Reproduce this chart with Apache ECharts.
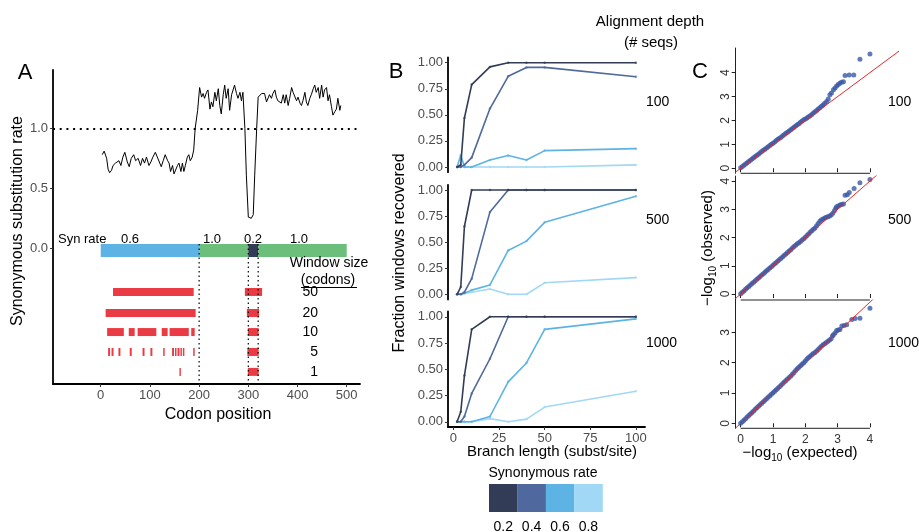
<!DOCTYPE html>
<html><head><meta charset="utf-8">
<script src="https://cdn.jsdelivr.net/npm/echarts@6/dist/echarts.min.js"></script>
<style>html,body{margin:0;padding:0;background:#fff}#c{width:919px;height:532px}</style>
</head><body><div id="c"></div>
<script>
// ================= Panel A data =================
const synPos = [3,7,12,15,18,22,25,30,33,37,41,45,49,54,58,62,67,71,76,81,85,89,93,98,102,106,111,115,120,123,127,131,136,139,142,146,149,152,156,159,163,166,169,172,176,179,182,186,189,192,197,201,205,208,211,215,218,222,225,228,232,235,239,242,245,249,252,255,259,262,266,269,272,276,279,283,286,289,293,296,300,303,306,310,313,317,320,323,327,330,333,337,340,343,347,350,354,357,360,364,367,371,374,377,381,384,388,391,394,398,401,405,408,411,415,418,421,425,428,432,435,438,442,445,449,452,455,459,462,465,469,472,476,479,482,486,488];
const synRate = [0.78,0.81,0.75,0.66,0.63,0.65,0.69,0.71,0.70,0.73,0.69,0.76,0.80,0.72,0.68,0.75,0.78,0.73,0.75,0.69,0.75,0.71,0.76,0.69,0.72,0.76,0.80,0.79,0.71,0.68,0.73,0.78,0.73,0.71,0.64,0.69,0.62,0.61,0.69,0.71,0.64,0.71,0.64,0.69,0.76,0.78,0.73,0.76,0.82,1.00,1.15,1.34,1.26,1.29,1.25,1.30,1.32,1.16,1.22,1.18,1.30,1.23,1.33,1.19,1.12,1.28,1.36,1.25,1.33,1.15,1.28,1.32,1.36,1.29,1.25,1.30,1.23,1.30,1.00,0.61,0.26,0.25,0.25,0.28,0.61,1.00,1.26,1.25,1.29,1.30,1.29,1.22,1.21,1.28,1.25,1.29,1.32,1.26,1.23,1.22,1.21,1.28,1.21,1.28,1.19,1.25,1.34,1.30,1.30,1.23,1.26,1.21,1.19,1.23,1.30,1.22,1.19,1.25,1.28,1.33,1.36,1.30,1.34,1.25,1.36,1.26,1.32,1.34,1.23,1.28,1.18,1.11,1.14,1.16,1.25,1.15,1.19];
const segStart = [0, 200, 300, 320];
const segEnd   = [200, 300, 320, 500];
const segRate  = [0.6, 1.0, 0.2, 1.0];
const windowSizes = [50, 20, 10, 5, 1];
const win50 = [[25,189],[293,328]];
const win20 = [[10,193],[297,322]];
const win10 = [[13,47],[57,69],[75,113],[124,136],[140,179],[184,191],[299,321]];
const win5  = [[15,19],[22,26],[36,40],[59,63],[85,89],[101,105],[127,130],[145,149],[151,154],[156,160],[162,165],[167,170],[188,191],[298,321]];
const win1  = [[160,161],[299,321]];
const xTicksA = [0,100,200,300,400,500];
const yTicksA = [0,0.5,1.0];

// ================= Panel B data =================
const branchLen = [2,4,6,10,20,30,40,50,100];
const rateLevels = [0.2, 0.4, 0.6, 0.8];
const depths = [100, 500, 1000];
const rec100_r02 = [0,0.02,0.47,0.79,0.96,1,1,1,1];
const rec100_r04 = [0,0,0.02,0.09,0.56,0.87,0.955,0.955,0.866];
const rec100_r06 = [0,0.115,0,0,0.067,0.11,0.067,0.157,0.176];
const rec100_r08 = [0,0,0,0,0,0,0,0,0.02];
const rec500_r02 = [0,0.07,0.65,1,1,1,1,1,1];
const rec500_r04 = [0,0,0.02,0.15,0.79,1,1,1,1];
const rec500_r06 = [0,0,0.01,0.04,0.09,0.42,0.51,0.69,0.94];
const rec500_r08 = [0,0,0.01,0.02,0.05,0,0,0.11,0.16];
const rec1000_r02 = [0,0.095,0.44,0.88,1,1,1,1,1];
const rec1000_r04 = [0,0,0.05,0.27,0.60,1,1,1,1];
const rec1000_r06 = [0,0,0,0,0.05,0.38,0.56,0.88,0.98];
const rec1000_r08 = [0,0,0,0,0.03,0,0.025,0.14,0.29];
const xTicksB = [0,25,50,75,100];
const yTicksB = [0,0.25,0.5,0.75,1];

// ================= Panel C data =================
const qq100 = [[0,0.02],[0.05,0.07],[0.1,0.13],[0.15,0.18],[0.2,0.23],[0.25,0.28],[0.3,0.34],[0.35,0.39],[0.4,0.44],[0.45,0.49],[0.5,0.54],[0.55,0.59],[0.6,0.65],[0.65,0.7],[0.7,0.75],[0.75,0.8],[0.8,0.85],[0.85,0.9],[0.9,0.95],[0.95,1.0],[1.0,1.05],[1.05,1.1],[1.1,1.16],[1.15,1.21],[1.2,1.26],[1.25,1.3],[1.3,1.36],[1.35,1.41],[1.4,1.46],[1.45,1.51],[1.5,1.56],[1.55,1.61],[1.6,1.66],[1.65,1.72],[1.7,1.77],[1.75,1.82],[1.8,1.86],[1.85,1.92],[1.9,1.98],[1.95,2.03],[2.0,2.06],[2.05,2.1],[2.1,2.15],[2.15,2.2],[2.2,2.25],[2.25,2.31],[2.3,2.36],[2.35,2.42],[2.4,2.48],[2.45,2.53],[2.5,2.59],[2.55,2.65],[2.6,2.72],[2.66,2.79],[2.71,2.9],[2.76,3.07],[2.81,3.15],[2.87,3.28],[2.92,3.36],[2.97,3.44],[3.02,3.5],[3.07,3.56],[3.12,3.6],[3.18,3.62],[3.23,3.88],[3.36,3.9],[3.5,3.9],[3.69,4.56],[4.0,4.78]];
const qq500 = [[0,0.01],[0.05,0.06],[0.1,0.11],[0.15,0.17],[0.2,0.22],[0.25,0.27],[0.3,0.32],[0.35,0.37],[0.4,0.42],[0.45,0.47],[0.5,0.52],[0.55,0.57],[0.6,0.62],[0.65,0.67],[0.7,0.72],[0.75,0.77],[0.8,0.82],[0.85,0.87],[0.9,0.92],[0.95,0.97],[1.0,1.02],[1.05,1.07],[1.1,1.12],[1.15,1.17],[1.2,1.22],[1.25,1.27],[1.3,1.32],[1.35,1.37],[1.4,1.42],[1.45,1.47],[1.5,1.52],[1.55,1.57],[1.6,1.63],[1.65,1.68],[1.7,1.73],[1.75,1.78],[1.8,1.82],[1.85,1.86],[1.9,1.91],[1.95,1.96],[2.0,2.01],[2.05,2.07],[2.1,2.13],[2.15,2.19],[2.2,2.24],[2.25,2.29],[2.3,2.34],[2.35,2.42],[2.4,2.5],[2.45,2.58],[2.5,2.63],[2.55,2.66],[2.6,2.69],[2.65,2.72],[2.7,2.74],[2.75,2.76],[2.8,2.8],[2.85,2.86],[2.9,2.95],[2.94,3.04],[2.97,3.09],[3.02,3.12],[3.07,3.15],[3.12,3.17],[3.18,3.19],[3.23,3.5],[3.3,3.52],[3.36,3.6],[3.51,3.74],[3.69,3.94],[4.0,4.06]];
const qq1000 = [[0,0],[0.05,0.05],[0.1,0.1],[0.15,0.15],[0.2,0.21],[0.25,0.26],[0.3,0.31],[0.35,0.36],[0.4,0.41],[0.45,0.46],[0.5,0.51],[0.55,0.56],[0.6,0.61],[0.65,0.66],[0.7,0.71],[0.75,0.76],[0.8,0.81],[0.85,0.86],[0.9,0.91],[0.95,0.96],[1.0,1.01],[1.05,1.06],[1.1,1.11],[1.15,1.16],[1.2,1.21],[1.25,1.26],[1.3,1.31],[1.35,1.36],[1.4,1.41],[1.45,1.46],[1.5,1.51],[1.55,1.56],[1.6,1.62],[1.65,1.68],[1.7,1.74],[1.75,1.8],[1.8,1.85],[1.85,1.9],[1.9,1.95],[1.95,2.0],[2.0,2.06],[2.05,2.12],[2.1,2.17],[2.15,2.21],[2.2,2.26],[2.25,2.3],[2.3,2.34],[2.35,2.39],[2.4,2.44],[2.45,2.49],[2.5,2.54],[2.55,2.59],[2.6,2.63],[2.65,2.67],[2.7,2.71],[2.75,2.75],[2.8,2.79],[2.84,2.88],[2.87,2.92],[2.92,2.98],[2.97,3.06],[3.02,3.08],[3.07,3.1],[3.13,3.21],[3.2,3.23],[3.28,3.25],[3.44,3.43],[3.54,3.46],[3.69,3.47],[4.0,3.8]];
const xTicksC = [0,1,2,3,4];
const yTicksC = [[0,1,2,3,4],[0,1,2,3,4],[0,1,2,3]];

// ================= Styles / layout =================
const FONT = 'Liberation Sans, Arial, Helvetica, sans-serif';
const rateColors = ['#323C56', '#4F689D', '#5DB3E4', '#A1D8F5'];
const synColor = {0.2: '#323C56', 0.6: '#5DB4E4', 1.0: '#6CBF7B'};
const winColor = 'rgba(232,44,54,0.93)';
const lblColor = '#4D4D4D';
const A_X = [-97, 527], A_Y = [-1.131, 1.486];
const barTop = 0.036, barBot = -0.073;
const rowY = [-0.364, -0.539, -0.698, -0.864, -1.03];
const B_X = [-3, 105], B_Y = [-0.05, 1.05];
const C_X = [-0.155, 4.85];
const C_Y = [[-0.21, 5.03], [-0.212, 4.18], [-0.165, 4.07]];

const grids = [
  {left: 53, top: 70, width: 307, height: 314},
  {left: 448, top: 57.5, width: 197, height: 114.7},
  {left: 448, top: 184.8, width: 197, height: 114.7},
  {left: 448, top: 311.5, width: 197, height: 115.5},
  {left: 735.7, top: 48, width: 161.7, height: 125.3},
  {left: 735.7, top: 176, width: 161.7, height: 124},
  {left: 735.7, top: 300, width: 161.7, height: 128.3}
];

const thickLine = {show: true, onZero: false, lineStyle: {color: '#000', width: 1.8}};
const thinLine = {show: true, onZero: false, lineStyle: {color: '#222', width: 1}};
const noSplit = {show: false};

const xAxes = [
  {gridIndex: 0, type: 'value', min: A_X[0], max: A_X[1], axisLine: thickLine, splitLine: noSplit,
   axisTick: {customValues: xTicksA, length: 3, lineStyle: {color: '#333'}},
   axisLabel: {customValues: xTicksA, fontSize: 13, color: lblColor, fontFamily: FONT, margin: 5}},
  {gridIndex: 1, type: 'value', min: B_X[0], max: B_X[1], show: false},
  {gridIndex: 2, type: 'value', min: B_X[0], max: B_X[1], show: false},
  {gridIndex: 3, type: 'value', min: B_X[0], max: B_X[1], axisLine: thickLine, splitLine: noSplit,
   axisTick: {customValues: xTicksB, length: 3, lineStyle: {color: '#333'}},
   axisLabel: {customValues: xTicksB, fontSize: 13, color: lblColor, fontFamily: FONT, margin: 5}}
];
for (let i = 0; i < 3; i++) {
  xAxes.push({gridIndex: 4 + i, type: 'value', min: C_X[0], max: C_X[1], splitLine: noSplit,
    axisLine: {show: false},
    axisTick: {customValues: xTicksC, length: 4, lineStyle: {color: '#222'}},
    axisLabel: {show: i === 2, customValues: xTicksC, fontSize: 12, color: '#333', fontFamily: FONT, margin: 5}});
}
const yAxes = [
  {gridIndex: 0, type: 'value', min: A_Y[0], max: A_Y[1], axisLine: thickLine, splitLine: noSplit,
   axisTick: {customValues: yTicksA, length: 3, lineStyle: {color: '#333'}},
   axisLabel: {customValues: yTicksA, fontSize: 13, color: lblColor, fontFamily: FONT, margin: 5,
     formatter: v => v.toFixed(1)}}
];
for (let i = 0; i < 3; i++) {
  yAxes.push({gridIndex: 1 + i, type: 'value', min: B_Y[0], max: B_Y[1], axisLine: thickLine, splitLine: noSplit,
    axisTick: {customValues: yTicksB, length: 3, lineStyle: {color: '#333'}},
    axisLabel: {customValues: yTicksB, fontSize: 13, color: lblColor, fontFamily: FONT, margin: 5,
      formatter: v => v.toFixed(2)}});
}
for (let i = 0; i < 3; i++) {
  yAxes.push({gridIndex: 4 + i, type: 'value', min: C_Y[i][0], max: C_Y[i][1], axisLine: thinLine, splitLine: noSplit,
    axisTick: {customValues: yTicksC[i], length: 4, lineStyle: {color: '#222'}},
    axisLabel: {customValues: yTicksC[i], rotate: 90, fontSize: 12, color: '#333', fontFamily: FONT, margin: 4}});
}

const series = [];
// --- A: rate trace + reference line at 1.0
series.push({type: 'line', xAxisIndex: 0, yAxisIndex: 0, data: synPos.map((p, i) => [p, synRate[i]]),
  symbol: 'none', lineStyle: {color: '#000', width: 1}, z: 5,
  markLine: {silent: true, symbol: 'none', label: {show: false},
    lineStyle: {color: '#000', type: [2, 4.7], width: 2}, data: [{yAxis: 1}]}});
// --- A: syn rate bar
series.push({type: 'custom', xAxisIndex: 0, yAxisIndex: 0,
  data: segStart.map((s, i) => [s, segEnd[i], segRate[i]]),
  encode: {x: [0, 1]},
  renderItem: (params, api) => {
    const p0 = api.coord([api.value(0), barTop]);
    const p1 = api.coord([api.value(1), barBot]);
    return {type: 'rect', shape: {x: p0[0], y: p0[1], width: p1[0] - p0[0], height: p1[1] - p0[1]},
      style: {fill: synColor[api.value(2)]}};
  }});
// --- A: dotted boundaries
series.push({type: 'custom', xAxisIndex: 0, yAxisIndex: 0, z: 6,
  data: segStart.slice(1).map(b => [b]),
  encode: {x: 0},
  renderItem: (params, api) => {
    const p0 = api.coord([api.value(0), barTop]);
    const p1 = api.coord([api.value(0), A_Y[0]]);
    return {type: 'line', shape: {x1: p0[0], y1: p0[1], x2: p1[0], y2: p1[1]},
      style: {stroke: '#000', lineWidth: 1.2, lineDash: [1.5, 3]}};
  }});
// --- A: windows
const winRows = [win50, win20, win10, win5, win1];
const winData = [];
winRows.forEach((row, r) => row.forEach(seg => winData.push([seg[0], seg[1], r])));
series.push({type: 'custom', xAxisIndex: 0, yAxisIndex: 0,
  data: winData, encode: {x: [0, 1]},
  renderItem: (params, api) => {
    const y = rowY[api.value(2)];
    const p0 = api.coord([api.value(0), y]);
    const p1 = api.coord([api.value(1), y]);
    const h = 8;
    return {type: 'rect', shape: {x: p0[0], y: p0[1] - h / 2, width: Math.max(p1[0] - p0[0], 1.4), height: h},
      style: {fill: winColor}};
  }});
// --- B: recovery curves
const recB = [
  [rec100_r02, rec100_r04, rec100_r06, rec100_r08],
  [rec500_r02, rec500_r04, rec500_r06, rec500_r08],
  [rec1000_r02, rec1000_r04, rec1000_r06, rec1000_r08]
];
recB.forEach((grp, g) => {
  for (let k = grp.length - 1; k >= 0; k--) {
    series.push({type: 'line', xAxisIndex: 1 + g, yAxisIndex: 1 + g,
      data: branchLen.map((b, i) => [b, grp[k][i]]),
      symbol: 'circle', symbolSize: 2.5, showSymbol: true, clip: false,
      lineStyle: {color: rateColors[k], width: 1.6},
      itemStyle: {color: rateColors[k], opacity: 0.7}, z: 3 + (3 - k)});
  }
});
// --- C: QQ plots
const qqSets = [qq100, qq500, qq1000];
qqSets.forEach((d, i) => {
  series.push({type: 'scatter', xAxisIndex: 4 + i, yAxisIndex: 4 + i, data: d,
    symbolSize: 5, itemStyle: {color: '#3A5AA8'}, z: 3});
  series.push({type: 'line', xAxisIndex: 4 + i, yAxisIndex: 4 + i,
    data: [[C_X[0] - 1, C_X[0] - 1], [C_X[1] + 1, C_X[1] + 1]],
    symbol: 'none', lineStyle: {color: '#E8262D', width: 1}, z: 4});
  series.push({type: 'line', xAxisIndex: 4 + i, yAxisIndex: 4 + i, clip: false,
    data: [[xTicksC[0], C_Y[i][0]], [xTicksC[xTicksC.length - 1], C_Y[i][0]]],
    symbol: 'none', lineStyle: {color: '#222', width: 1}, z: 5});
});

// ================= Text / graphic =================
const g = [];
function txt(x, y, text, o = {}) {
  g.push({type: 'text', x: x, y: y, rotation: o.rot || 0, z: 100,
    style: {text: text, fontSize: o.size || 14, fill: o.color || '#000', fontFamily: FONT,
      align: o.align || 'center', verticalAlign: 'middle', rich: o.rich}});
}
// panel letters
txt(25, 73, 'A', {size: 22});
txt(396, 72, 'B', {size: 22});
txt(700, 72, 'C', {size: 22});
// A titles
txt(18, 221, 'Synonymous substitution rate', {size: 16, rot: Math.PI / 2});
txt(218, 415, 'Codon position', {size: 16});
txt(58, 239, 'Syn rate', {size: 13, align: 'left'});
const segLabelX = [130, 212, 253, 299];
segRate.forEach((r, i) => txt(segLabelX[i], 239, r.toFixed(1), {size: 13}));
txt(329, 263, 'Window size', {size: 14});
txt(328, 280, '(codons)', {size: 14});
g.push({type: 'line', z: 100, shape: {x1: 301, y1: 287.5, x2: 357, y2: 287.5}, style: {stroke: '#000', lineWidth: 1}});
const rowPix = [292, 313, 332, 352, 372];
windowSizes.forEach((w, i) => txt(318, rowPix[i], String(w), {size: 14, align: 'right'}));
// B titles
txt(400, 253, 'Fraction windows recovered', {size: 16, rot: Math.PI / 2});
txt(552, 452, 'Branch length (subst/site)', {size: 15});
txt(650, 22, 'Alignment depth', {size: 15});
txt(651, 43, '(# seqs)', {size: 15});
const depthY = [102, 220, 343];
depths.forEach((d, i) => { txt(646, depthY[i], String(d), {size: 14, align: 'left'}); txt(888, depthY[i], String(d), {size: 14, align: 'left'}); });
// B legend
txt(543, 473, 'Synonymous rate', {size: 14});
rateLevels.forEach((r, i) => {
  const x = 489 + i * 28.4;
  g.push({type: 'rect', z: 100, shape: {x: x, y: 484, width: 28.6, height: 28}, style: {fill: rateColors[i]}});
  txt(x + 14.2, 527, r.toFixed(1), {size: 14});
});
// C titles
const subRich = {a: {fontSize: 15, lineHeight: 20, fontFamily: FONT}, s: {fontSize: 10, lineHeight: 12, verticalAlign: 'bottom', fontFamily: FONT}};
txt(708, 248, '{a|\u2212log}{s|10}{a| (observed)}', {rot: Math.PI / 2, rich: subRich});
txt(800, 453, '{a|\u2212log}{s|10}{a| (expected)}', {rich: subRich});

const chart = echarts.init(document.getElementById('c'), null, {renderer: 'canvas'});
chart.setOption({
  animation: false,
  backgroundColor: '#fff',
  textStyle: {fontFamily: FONT},
  grid: grids,
  xAxis: xAxes,
  yAxis: yAxes,
  series: series,
  graphic: g
});
</script></body></html>
